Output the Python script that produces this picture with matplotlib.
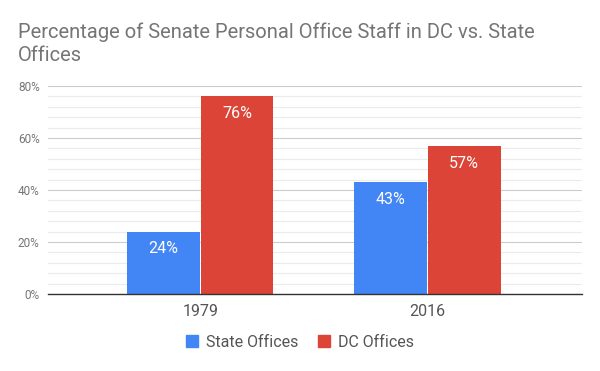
import matplotlib
matplotlib.use("Agg")
import matplotlib.pyplot as plt
import numpy as np
from matplotlib.patches import Patch

categories = ["1979", "2016"]
state_offices = [24, 43]
dc_offices = [76, 57]
series_names = ["State Offices", "DC Offices"]
colors = ["#4285F4", "#DB4437"]
yticks = [0, 20, 40, 60, 80]

plt.rcParams['font.family'] = ['Roboto', 'DejaVu Sans']

fig = plt.figure(figsize=(6, 3.71), dpi=100)
ax = fig.add_axes([0.08, 0.2075, 0.89, 0.5605])

x = np.arange(len(categories))
w = 0.32
gap = 0.004
b1 = ax.bar(x - w/2 - gap/2, state_offices, w, color=colors[0], zorder=3)
b2 = ax.bar(x + w/2 + gap/2, dc_offices, w, color=colors[1], zorder=3)

for bars, vals in ((b1, state_offices), (b2, dc_offices)):
    for r, v in zip(bars, vals):
        ax.annotate(f"{v}%", (r.get_x() + r.get_width()/2, v), xytext=(0, -12.5),
                    textcoords="offset points", ha="center", va="center",
                    color="white", fontsize=11.5, zorder=4)

ax.set_xlim(-0.67, 1.68)
ax.set_ylim(0, 80)
ax.set_yticks(yticks)
ax.set_yticklabels([f"{t}%" for t in yticks])
ax.set_yticks(np.arange(0, 81, 4), minor=True)
ax.set_xticks(x)
ax.set_xticklabels(categories)
ax.tick_params(axis='y', which='both', length=0, labelsize=8.5, labelcolor="#757575", pad=6)
ax.tick_params(axis='x', length=0, labelsize=11.5, labelcolor="#555555", pad=7)
ax.grid(axis='y', which='major', color="#cccccc", linewidth=0.8, zorder=0)
ax.grid(axis='y', which='minor', color="#ebebeb", linewidth=0.8, zorder=0)
for s in ("top", "right", "left"):
    ax.spines[s].set_visible(False)
ax.spines["bottom"].set_color("#333333")
ax.spines["bottom"].set_linewidth(1.0)
ax.spines["bottom"].set_zorder(5)

fig.text(0.03, 0.883, "Percentage of Senate Personal Office Staff in DC vs. State\nOffices",
         fontsize=14.5, color="#757575", ha="left", va="center", linespacing=1.25)

handles = [Patch(color=c) for c in colors]
fig.legend(handles, series_names, loc="center", bbox_to_anchor=(0.5, 0.078), ncol=2,
           frameon=False, fontsize=11.5, labelcolor="#555555", handlelength=0.75,
           handleheight=0.75, handletextpad=0.5, columnspacing=1.2)

fig.savefig("out.png", dpi=100)
